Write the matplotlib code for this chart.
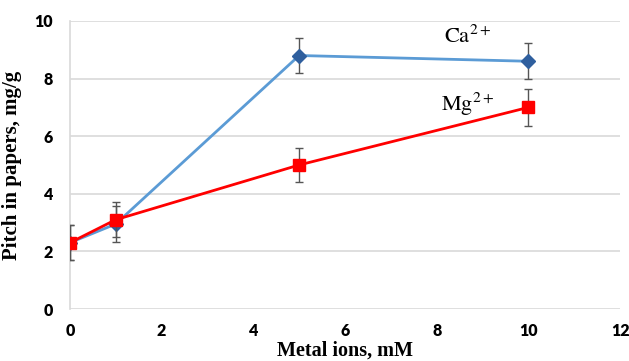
import matplotlib
matplotlib.use("Agg")
import matplotlib.pyplot as plt

# concentrations (mM)
conc = [0, 1, 5, 10]

# Ca2+ series
ca_vals = [2.3, 2.95, 8.8, 8.6]
ca_err = [0.6, 0.62, 0.6, 0.62]

# Mg2+ series
mg_vals = [2.3, 3.1, 5.0, 7.0]
mg_err = [0.6, 0.6, 0.6, 0.63]

x_ticks = [0, 2, 4, 6, 8, 10, 12]
y_ticks = [0, 2, 4, 6, 8, 10]

plt.rcParams["mathtext.fontset"] = "stix"

fig = plt.figure(figsize=(6.29, 3.61), dpi=100)
ax = fig.add_axes([0.111, 0.144, 0.875, 0.798])

ax.errorbar(conc, ca_vals, yerr=ca_err, color="#5B9BD5", lw=2,
            marker="D", ms=7, mfc="#2F5F9E", mec="#2F5F9E",
            ecolor="#555555", elinewidth=1, capsize=3, zorder=3)
ax.errorbar(conc, mg_vals, yerr=mg_err, color="#FF0000", lw=2,
            marker="s", ms=9, mfc="#FF0000", mec="#FF0000",
            ecolor="#555555", elinewidth=1, capsize=3, zorder=4)

ax.text(8.67, 9.5, r"$\mathrm{Ca}^{2+}$", fontsize=16, ha="center", va="center")
ax.text(8.67, 7.1, r"$\mathrm{Mg}^{2+}$", fontsize=16, ha="center", va="center")

ax.set_xlim(0, 12)
ax.set_ylim(0, 10)
ax.set_xticks(x_ticks)
ax.set_yticks(y_ticks)
ax.grid(axis="y", color="#D9D9D9", lw=1.2)
ax.set_axisbelow(True)
for s in ["top", "right", "bottom"]:
    ax.spines[s].set_visible(False)
ax.spines["left"].set_color("#D9D9D9")
ax.spines["left"].set_linewidth(1.2)
ax.tick_params(axis="x", length=0, pad=10, labelsize=11.5)
ax.tick_params(axis="y", length=0, pad=12, labelsize=11.5)
for lab in ax.get_xticklabels() + ax.get_yticklabels():
    lab.set_fontfamily("Lato")
    lab.set_fontweight("heavy")

ax.set_xlabel("Metal ions, mM", family="Liberation Serif", fontweight="bold",
              fontsize=14.5, labelpad=1)
ax.set_ylabel("Pitch in papers, mg/g", family="Liberation Serif", fontweight="bold",
              fontsize=15, labelpad=9)

fig.savefig("out.png", dpi=100, facecolor="white")
